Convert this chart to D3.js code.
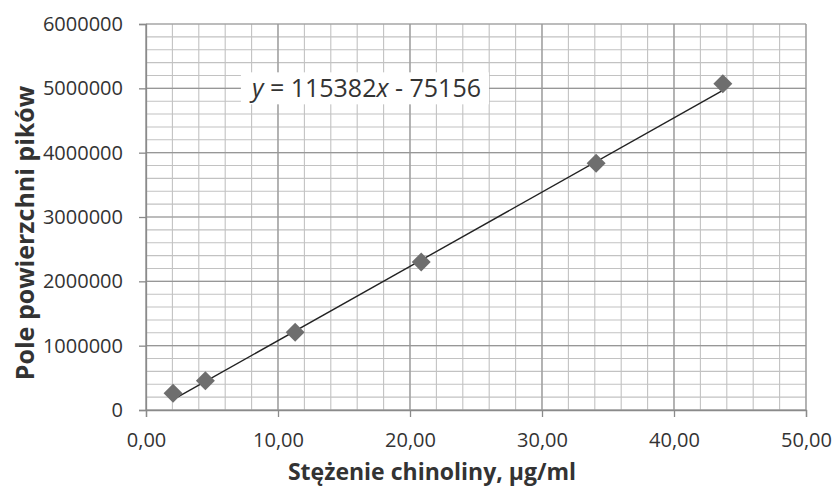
<!DOCTYPE html>
<html>
<head>
<meta charset="utf-8">
<script src="https://cdn.jsdelivr.net/npm/d3@7"></script>
<style>
  body { margin: 0; background: #fff; }
  text { font-family: "Open Sans", sans-serif; fill: #333; }
</style>
</head>
<body>
<div id="chart"></div>
<script>
// data
const conc = [2.05, 4.5, 11.3, 20.85, 34.1, 43.7];
const peakArea = [260000, 455000, 1210000, 2300000, 3835000, 5070000];
const slope = 115382;
const intercept = -75156;
const xTicks = [0, 10, 20, 30, 40, 50];
const yTicks = [0, 1000000, 2000000, 3000000, 4000000, 5000000, 6000000];
const xTitle = "Stężenie chinoliny, µg/ml";
const yTitle = "Pole powierzchni pików";

// canvas layout
var margin = { top: 24, right: 26, bottom: 76, left: 146 };
const W = 832, H = 486;
const width = W - margin.left - margin.right;
const height = H - margin.top - margin.bottom;

var svg = d3.select("#chart")
    .append("svg")
    .attr("width", W)
    .attr("height", H)
    .append("g")
    .attr("transform", "translate(" + margin.left + "," + margin.top + ")");

var x = d3.scaleLinear().domain([0, 50]).range([0, width]);
var y = d3.scaleLinear().domain([0, 6000000]).range([height, 0]);

// minor grid
svg.append("g")
    .selectAll("line")
    .data(d3.range(0, 50.01, 2))
    .join("line")
    .attr("x1", d => x(d)).attr("x2", d => x(d))
    .attr("y1", 0).attr("y2", height)
    .attr("stroke", "#c2c2c2").attr("stroke-width", 1.1);
svg.append("g")
    .selectAll("line")
    .data(d3.range(0, 6000001, 200000))
    .join("line")
    .attr("x1", 0).attr("x2", width)
    .attr("y1", d => y(d)).attr("y2", d => y(d))
    .attr("stroke", "#c2c2c2").attr("stroke-width", 1.1);

// major grid
svg.append("g")
    .selectAll("line")
    .data(xTicks)
    .join("line")
    .attr("x1", d => x(d)).attr("x2", d => x(d))
    .attr("y1", 0).attr("y2", height)
    .attr("stroke", "#979797").attr("stroke-width", 1.2);
svg.append("g")
    .selectAll("line")
    .data(yTicks)
    .join("line")
    .attr("x1", 0).attr("x2", width)
    .attr("y1", d => y(d)).attr("y2", d => y(d))
    .attr("stroke", "#979797").attr("stroke-width", 1.2);

// axes
var xAxis = svg.append("g")
    .attr("transform", "translate(0," + height + ")")
    .call(d3.axisBottom(x)
        .tickValues(xTicks)
        .tickSize(7)
        .tickPadding(16)
        .tickFormat(d => d3.format(".2f")(d).replace(".", ",")));
var yAxis = svg.append("g")
    .call(d3.axisLeft(y)
        .tickValues(yTicks)
        .tickSize(7)
        .tickPadding(16)
        .tickFormat(d => String(d)));
[xAxis, yAxis].forEach(function (a) {
    a.select(".domain").attr("stroke", "#8a8a8a").attr("stroke-width", 1.3);
    a.selectAll(".tick line").attr("stroke", "#8a8a8a").attr("stroke-width", 1.3);
    a.selectAll(".tick text")
        .attr("fill", "#333")
        .style("font-family", "'Open Sans', sans-serif")
        .style("font-size", "20px");
});

// trend line over the data range
var xr = d3.extent(conc);
svg.append("path")
    .datum(xr)
    .attr("fill", "none")
    .attr("stroke", "#222")
    .attr("stroke-width", 1.4)
    .attr("d", d3.line()
        .x(d => x(d))
        .y(d => y(slope * d + intercept)));

// equation label
var eq = svg.append("g")
    .attr("transform", "translate(" + x(16.7) + "," + y(5000000) + ")");
var eqRect = eq.append("rect").attr("fill", "#fff");
var eqText = eq.append("text")
    .attr("text-anchor", "middle")
    .attr("dy", "0.35em")
    .style("font-size", "25px")
    .attr("fill", "#333");
eqText.append("tspan").attr("font-style", "italic").text("y");
eqText.append("tspan").text(" = " + slope);
eqText.append("tspan").attr("font-style", "italic").text("x");
eqText.append("tspan").text(" - " + Math.abs(intercept));
var bb = eqText.node().getBBox();
eqRect.attr("x", bb.x - 8).attr("y", -16).attr("width", bb.width + 16).attr("height", 32);

// markers
svg.selectAll(".pt")
    .data(conc)
    .join("path")
    .attr("class", "pt")
    .attr("transform", (d, i) => "translate(" + x(d) + "," + y(peakArea[i]) + ") rotate(45)")
    .attr("d", d3.symbol(d3.symbolSquare, 180))
    .attr("fill", "#6e6e6e");

// axis titles
svg.append("text")
    .attr("x", 432 - margin.left)
    .attr("y", height + 70)
    .attr("text-anchor", "middle")
    .style("font-size", "23px")
    .style("font-weight", "bold")
    .attr("fill", "#111")
    .text(xTitle);
svg.append("text")
    .attr("transform", "translate(" + (34 - margin.left) + "," + (233 - margin.top) + ") rotate(-90)")
    .attr("text-anchor", "middle")
    .style("font-size", "25px")
    .style("font-weight", "bold")
    .attr("fill", "#111")
    .text(yTitle);
</script>
</body>
</html>
